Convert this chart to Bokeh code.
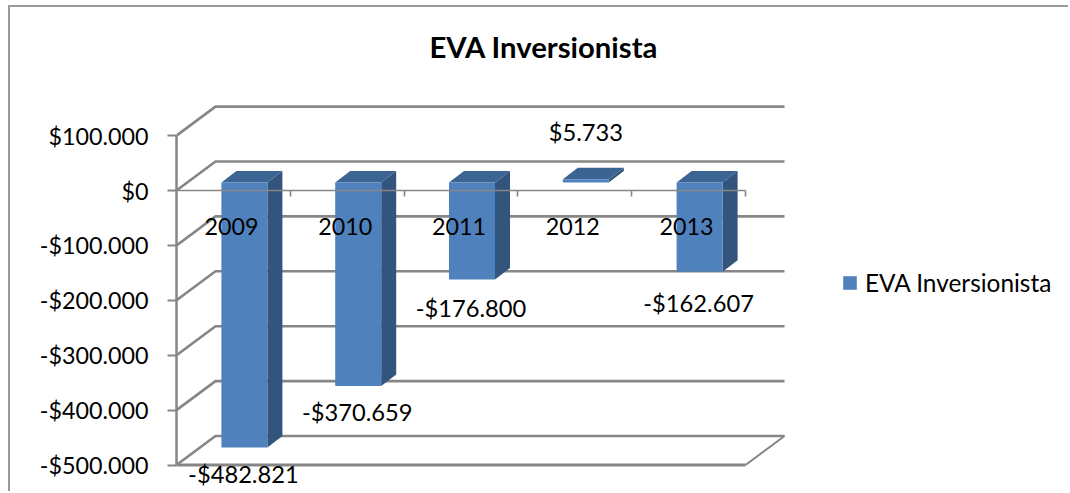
from bokeh.plotting import figure
from bokeh.models import (ColumnDataSource, FixedTicker, LinearAxis, Range1d, Legend, LegendItem, Title)
from bokeh.core.properties import value
from bokeh.embed import file_html
from bokeh.resources import INLINE

years = ["2009", "2010", "2011", "2012", "2013"]
eva = [-482821, -370659, -176800, 5733, -162607]
labels = ["-$482.821", "-$370.659", "-$176.800", "$5.733", "-$162.607"]
y_ticks = [-500000, -400000, -300000, -200000, -100000, 0, 100000]
y_tick_labels = ["-$500.000", "-$400.000", "-$300.000", "-$200.000", "-$100.000", "$0", "$100.000"]
series_name = "EVA Inversionista"

FONT = "Lato"
FS = "23.3px"
FS_LABEL = "23.7px"
GREY = "#868686"
BORDER = 2
FIG_L, FIG_T = 8, 5           # page position of the figure
W, H = 1062, 488
AX_L, FRAME_T = 176, 70       # page position of the plot frame
Z_Y = 190                     # page y of value 0
PX_X = 113.8                  # px per category
PX_V = 54.9 / 100000          # px per value unit

def dx(px): return px / PX_X
def dv(px): return px / PX_V

x_range = Range1d(0, dx(FIG_L + W - AX_L))
y_range = Range1d(dv(Z_Y - (FIG_T + H)), dv(Z_Y - FRAME_T))

p = figure(width=W - BORDER, height=H - BORDER, x_range=x_range, y_range=y_range, output_backend="svg",
           toolbar_location=None, x_axis_type=None, y_axis_type=None,
           min_border_left=AX_L - FIG_L - BORDER, min_border_top=FRAME_T - FIG_T - BORDER,
           min_border_right=0, min_border_bottom=0, outline_line_color=None,
           background_fill_color="white", border_fill_color=None)
p.grid.visible = False
p.margin = (5, 0, 0, 8)
p.styles = {"border-top": "2px solid #9a9a9a", "border-left": "2px solid #9a9a9a"}

p.title = Title(text=series_name, align="left", offset=253,
                text_font=FONT, text_font_size="29.3px", text_font_style="bold",
                text_color="black", standoff=14)

# 3D walls
DX, DY = dx(39), dv(29)
xs, ys = [], []
for t in y_ticks:
    xs.append([0, DX, 5 + DX]); ys.append([t, t + DY, t + DY])
p.multi_line(xs, ys, line_color=GREY, line_width=2.6)
floor = y_ticks[0]
p.line([5, 5 + DX], [floor, floor + DY], line_color=GREY, line_width=2)
p.line([0, 5], [floor, floor], line_color=GREY, line_width=3)

# bars
BX, BY = dx(11), dv(8)        # bar front offset from the front plane
SX, SY = dx(15), dv(11.5)     # bar depth
BW = dx(46)
front_x, front_y, side_x, side_y, top_x, top_y = [], [], [], [], [], []
for i, v in enumerate(eva):
    l = i + 0.5 - BW / 2 + BX
    r = l + BW
    hi = max(v, 0) + BY
    lo = min(v, 0) + BY
    front_x.append([l, r, r, l]); front_y.append([hi, hi, lo, lo])
    side_x.append([r, r + SX, r + SX, r]); side_y.append([hi, hi + SY, lo + SY, lo])
    top_x.append([l, r, r + SX, l + SX]); top_y.append([hi, hi, hi + SY, hi + SY])
p.patches(side_x, side_y, fill_color="#33547d", line_color=None)
p.patches(top_x, top_y, fill_color="#3c6492", line_color=None)
front = p.patches(front_x, front_y, fill_color="#4f81bd", line_color=None)

# axes
yax = LinearAxis(ticker=FixedTicker(ticks=y_ticks),
                 major_label_overrides=dict(zip(y_ticks, y_tick_labels)),
                 bounds=(y_ticks[0], y_ticks[-1]),
                 axis_line_color=GREY, axis_line_width=2.5, major_tick_line_color=GREY,
                 major_tick_line_width=2, major_tick_out=9, major_tick_in=0, minor_tick_out=0, minor_tick_in=0,
                 major_label_standoff=19, major_label_text_font=FONT,
                 major_label_text_font_size=FS, major_label_text_color="black")
p.add_layout(yax, "left")

centers = [i + 0.5 - dx(2) for i in range(len(years))]
xax = LinearAxis(ticker=FixedTicker(ticks=centers, minor_ticks=[1, 2, 3, 4, 5]),
                 major_label_overrides=dict(zip(centers, years)),
                 bounds=(0, 5), fixed_location=0,
                 axis_line_color=GREY, axis_line_width=1.6,
                 major_tick_out=0, major_tick_in=0, minor_tick_out=6, minor_tick_in=0,
                 minor_tick_line_color=GREY, minor_tick_line_width=1.6,
                 major_label_standoff=21, major_label_text_font=FONT,
                 major_label_text_font_size=FS, major_label_text_color="black")
p.add_layout(xax, "below")

# data labels (pixel offsets from each bar's end)
lab_dx = [-1, -1, -1, 0, -1]
lab_dy = [26, 26, 28, -47, 31]
src = ColumnDataSource(dict(x=[i + 0.5 + BX for i in range(5)],
                            y=[v + BY for v in eva], t=labels, xo=lab_dx, yo=lab_dy))
p.text("x", "y", text="t", source=src, x_offset="xo", y_offset="yo", text_align="center",
       text_baseline="middle", text_font=value(FONT), text_font_size=value(FS_LABEL), text_color="black")

legend = Legend(items=[LegendItem(label=series_name, renderers=[front])],
                location=(841 - AX_L, FIG_T + H - 297), orientation="vertical",
                padding=0, margin=0, border_line_color=None, background_fill_alpha=0,
                glyph_width=17, glyph_height=17, label_standoff=7, label_height=17,
                label_text_font=FONT, label_text_font_size="24.4px", label_text_color="black")
p.add_layout(legend, "center")

open("out.html", "w").write(file_html(p, INLINE))
